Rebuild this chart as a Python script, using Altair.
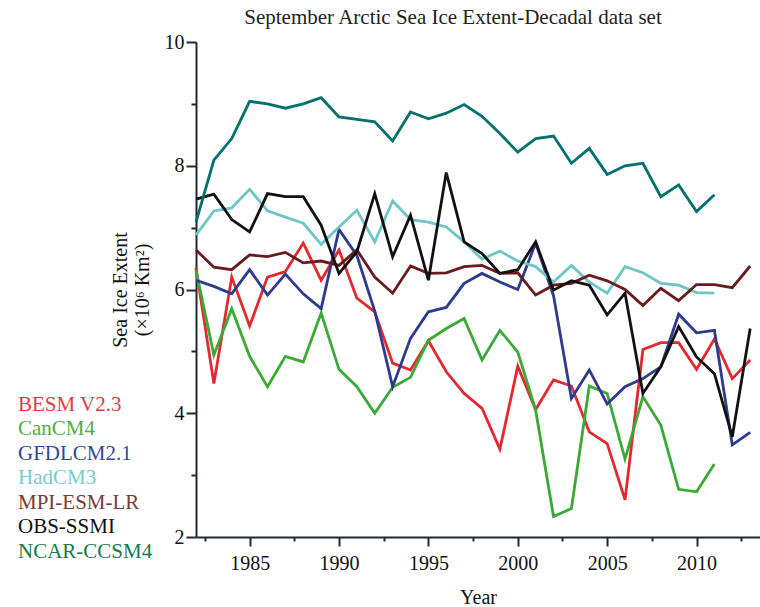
import altair as alt
import pandas as pd

# September sea ice extent (10^6 km^2), one value per year 1982-2013
years = list(range(1982, 2014))

besm = [6.35, 4.48, 6.20, 5.41, 6.20, 6.29, 6.75, 6.15, 6.64, 5.86, 5.64, 4.81,
        4.70, 5.17, 4.67, 4.32, 4.08, 3.42, 4.76, 4.06, 4.54, 4.44, 3.70, 3.51,
        2.60, 5.03, 5.14, 5.14, 4.71, 5.20, 4.56, 4.86]
cancm4 = [6.31, 4.94, 5.69, 4.92, 4.43, 4.92, 4.83, 5.62, 4.71, 4.43, 4.00, 4.42,
          4.58, 5.18, 5.37, 5.53, 4.86, 5.34, 4.99, 4.05, 2.33, 2.46, 4.44, 4.32,
          3.26, 4.27, 3.81, 2.77, 2.73, 3.18, None, None]
gfdl = [6.15, 6.05, 5.93, 6.32, 5.91, 6.25, 5.93, 5.69, 6.97, 6.55, 5.65, 4.43,
        5.21, 5.64, 5.71, 6.10, 6.26, 6.12, 6.00, 6.75, 5.90, 4.24, 4.70, 4.15,
        4.43, 4.56, 4.75, 5.60, 5.30, 5.34, 3.49, 3.69]
hadcm3 = [6.88, 7.27, 7.32, 7.62, 7.27, 7.17, 7.07, 6.73, 7.01, 7.28, 6.77, 7.43,
          7.13, 7.09, 7.01, 6.77, 6.49, 6.62, 6.46, 6.37, 6.12, 6.39, 6.12, 5.94,
          6.37, 6.27, 6.10, 6.07, 5.95, 5.94, None, None]
mpi = [6.64, 6.36, 6.32, 6.56, 6.53, 6.60, 6.43, 6.46, 6.39, 6.64, 6.20, 5.94,
       6.38, 6.26, 6.27, 6.37, 6.39, 6.26, 6.27, 5.91, 6.07, 6.10, 6.23, 6.14,
       6.00, 5.74, 6.02, 5.82, 6.08, 6.08, 6.03, 6.38]
obs = [7.46, 7.54, 7.13, 6.93, 7.55, 7.50, 7.50, 7.04, 6.26, 6.61, 7.55, 6.53,
       7.20, 6.15, 7.89, 6.77, 6.58, 6.26, 6.32, 6.77, 5.99, 6.14, 6.07, 5.59,
       5.94, 4.32, 4.75, 5.40, 4.91, 4.64, 3.62, 5.37]
ncar = [7.09, 8.09, 8.44, 9.04, 9.00, 8.93, 9.00, 9.10, 8.79, 8.75, 8.71, 8.40,
        8.87, 8.76, 8.85, 8.99, 8.80, 8.52, 8.22, 8.44, 8.48, 8.04, 8.28, 7.86,
        8.00, 8.04, 7.50, 7.69, 7.26, 7.53, None, None]

names = ["BESM V2.3", "CanCM4", "GFDLCM2.1", "HadCM3", "MPI-ESM-LR",
         "OBS-SSMI", "NCAR-CCSM4"]
series = [besm, cancm4, gfdl, hadcm3, mpi, obs, ncar]
line_colors = ["#e5282d", "#3aa935", "#2e3a8c", "#6fc6c9", "#6a1a1f",
               "#111111", "#00706c"]
label_colors = ["#e33b3f", "#4bb04a", "#34479a", "#7accce", "#7b3a3a",
                "#111111", "#17794a"]

x_ticks = [1982.5, 1985, 1987.5, 1990, 1992.5, 1995, 1997.5, 2000,
           2002.5, 2005, 2007.5, 2010, 2012.5]
y_ticks = [2, 3, 4, 5, 6, 7, 8, 9, 10]

rows = []
for name, vals in zip(names, series):
    for yr, v in zip(years, vals):
        if v is not None:
            rows.append({"year": yr, "model": name, "extent": v})
df = pd.DataFrame(rows)

serif = "Liberation Serif"
axis_color = "#1f2a30"

# legend label colours, looked up per entry
color_map = ", ".join(f"'{n}': '{c}'" for n, c in zip(names, label_colors))
label_fill = alt.ExprRef("({" + color_map + "})[datum.label]")

chart = (
    alt.Chart(df)
    .mark_line(strokeWidth=2.8)
    .encode(
        x=alt.X(
            "year:Q",
            scale=alt.Scale(domain=[1982, 2013.55], nice=False, zero=False),
            axis=alt.Axis(
                values=x_ticks,
                format="d",
                labelExpr="datum.value % 5 === 0 ? datum.label : ''",
                tickSize={"condition": {"test": "datum.value % 5 === 0", "value": 9},
                          "value": 4},
                labelOverlap=False,
                labelFlush=False,
                grid=False,
                labelPadding=7,
                title="Year",
                titlePadding=14,
            ),
        ),
        y=alt.Y(
            "extent:Q",
            scale=alt.Scale(domain=[2, 10], nice=False, zero=False),
            axis=alt.Axis(
                values=y_ticks,
                labelExpr="datum.value % 2 === 0 ? datum.label : ''",
                tickSize={"condition": {"test": "datum.value % 2 === 0", "value": 10},
                          "value": 5},
                labelOverlap=False,
                grid=False,
                labelPadding=2,
                title=["Sea Ice Extent", "(\u00d710\u2076 Km\u00b2)"],
                titlePadding=12,
            ),
        ),
        color=alt.Color(
            "model:N",
            scale=alt.Scale(domain=names, range=line_colors),
            legend=alt.Legend(
                orient="none",
                legendX=-199,
                legendY=352,
                title=None,
                symbolSize=0,
                symbolOpacity=0,
                symbolStrokeWidth=0,
                labelFont=serif,
                labelFontSize=21,
                labelOffset=0,
                rowPadding=2.5,
                labelLimit=300,
                labelColor=label_fill,
            ),
        ),
        order=alt.Order("year:Q"),
    )
    .properties(
        width=564,
        height=495,
        autosize="none",
        padding={"left": 196, "top": 42, "right": 0, "bottom": 70},
        title=alt.Title(
            "September Arctic Sea Ice Extent-Decadal data set",
            font=serif,
            fontSize=21,
            fontWeight="normal",
            color="#222222",
            anchor="middle",
            dx=-25,
            offset=4,
        ),
    )
    .configure_view(stroke=None)
    .configure_axis(
        domainColor=axis_color,
        domainWidth=2,
        tickColor=axis_color,
        tickWidth=2,
        labelFont=serif,
        labelFontSize=20,
        labelColor="#111111",
        titleFont=serif,
        titleFontSize=20,
        titleFontWeight="normal",
        titleColor="#111111",
    )
)

chart.save("out.html", embed_options={"renderer": "svg", "actions": False})
